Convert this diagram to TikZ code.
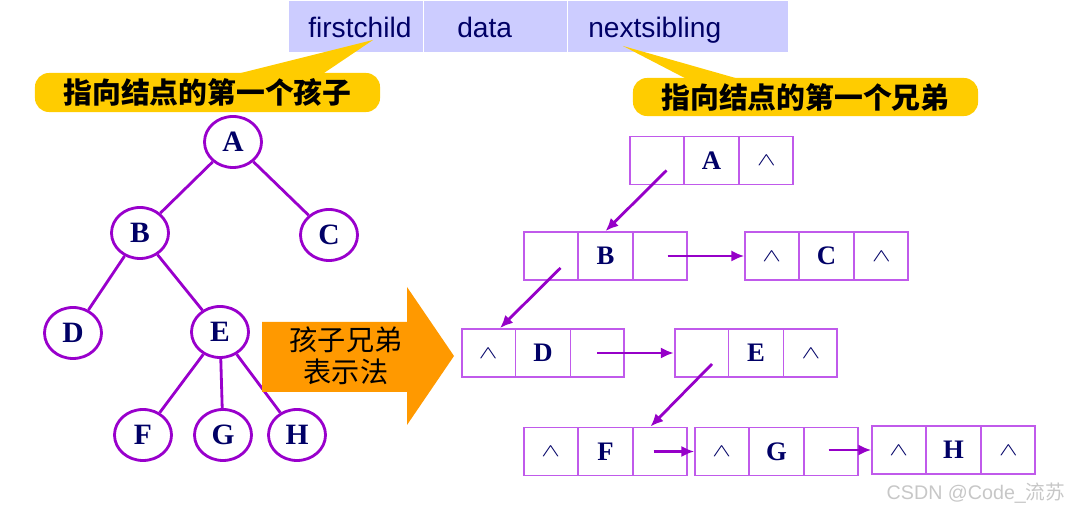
\documentclass[tikz,border=0pt]{standalone}
\usepackage{fontspec}
\setmainfont{Liberation Serif}
\setsansfont{Liberation Sans}
\newfontfamily\cjk{Noto Sans CJK SC}
\usepackage{tikz}
\usetikzlibrary{positioning,arrows.meta,shapes.geometric,shapes.multipart}
\definecolor{hdblue}{RGB}{204,204,255}
\definecolor{navy}{RGB}{0,0,102}
\definecolor{treepurple}{RGB}{153,0,204}
\definecolor{boxpurple}{RGB}{192,90,235}
\definecolor{ptrpurple}{RGB}{150,0,200}
\definecolor{callyellow}{RGB}{255,204,0}
\definecolor{arrorange}{RGB}{255,153,0}
\newcommand{\nilp}{\scalebox{1.15}[0.75]{$\wedge$}}

\begin{document}
\begin{tikzpicture}[x=0.025cm, y=-0.025cm,
    hdcell/.style={fill=hdblue, draw=white, line width=1pt, minimum height=1.3cm,
                   anchor=north west, inner sep=0pt},
    hdtxt/.style={font=\sffamily\fontsize{20}{24}\selectfont, text=navy,
                  anchor=base west, inner sep=0pt},
    callout/.style={fill=callyellow, rounded corners=0.35cm, inner sep=0pt,
                    font=\cjk\bfseries\fontsize{20.5}{24}\selectfont},
    tnode/.style={ellipse, draw=treepurple, line width=2pt, fill=white,
                  minimum width=1.425cm, minimum height=1.275cm, inner sep=0pt,
                  font=\bfseries\fontsize{21}{24}\selectfont, text=navy},
    tedge/.style={draw=treepurple, line width=2pt},
    lnode/.style={rectangle split, rectangle split horizontal, rectangle split parts=3,
                  draw=boxpurple, line width=1.3pt, text width=1.325cm, align=center,
                  inner sep=0pt, minimum height=1.2cm,
                  font=\bfseries\fontsize{19}{22}\selectfont, text=navy},
    ptr/.style={-{Latex[length=3.2mm,width=2.8mm]}, draw=ptrpurple, line width=2pt}
]
\useasboundingbox (0,0) rectangle (1068,510);

% field header
\node[hdcell, minimum width=3.375cm] (hfc) at (288,0) {};
\node[hdcell, minimum width=3.6cm] (hdt) at (423,0) {};
\node[hdcell, minimum width=5.525cm] (hns) at (567,0) {};
\node[hdtxt] (tfc) at ([shift={(20,38)}]hfc.north west) {firstchild};
\node[hdtxt] (tdt) at ([shift={(34,38)}]hdt.north west) {data};
\node[hdtxt] (tns) at ([shift={(21,38)}]hns.north west) {nextsibling};

% callouts
\node[callout, minimum width=8.625cm, minimum height=0.975cm] (cfc) at (207.5,92.5) {指向结点的第一个孩子};
\node[callout, minimum width=8.625cm, minimum height=0.95cm] (cns) at (805.5,97) {指向结点的第一个兄弟};
\coordinate (pfc) at (373,40);
\coordinate (pns) at (623,46);
\fill[callyellow] (pfc) -- ([shift={(22.5,3)}]cfc.north) -- ([shift={(112.5,3)}]cfc.north) -- cycle;
\fill[callyellow] (pns) -- ([shift={(-115.5,3)}]cns.north) -- ([shift={(-60.5,3)}]cns.north) -- cycle;

% tree
\node[tnode] (tA) at (233,142) {A};
\node[tnode] (tB) at (140,233) {B};
\node[tnode] (tC) at (329,235) {C};
\node[tnode] (tD) at (73,333) {D};
\node[tnode] (tE) at (220,332) {E};
\node[tnode] (tF) at (143,435) {F};
\node[tnode] (tG) at (223,435) {G};
\node[tnode] (tH) at (297,435) {H};
\draw[tedge] (tA) -- (tB);
\draw[tedge] (tA) -- (tC);
\draw[tedge] (tB) -- (tD);
\draw[tedge] (tB) -- (tE);
\draw[tedge] (tE) -- (tF);
\draw[tedge] (tE) -- (tG);
\draw[tedge] (tE) -- (tH);

% big arrow
\fill[arrorange] (262,322) -- (407,322) -- (407,287) -- (454,356) -- (407,425)
  -- (407,392) -- (262,392) -- cycle;
\node[font=\cjk\fontsize{20}{23}\selectfont, align=center] (rep) at (346,356) {孩子兄弟\\表示法};

% child-sibling list
\node[lnode] (lA) at (711.5,160.5) {\nodepart{two}A\nodepart{three}\nilp};
\node[lnode] (lB) at (605.5,256) {\nodepart{two}B\nodepart{three}};
\node[lnode] (lC) at (826.5,256) {\nilp\nodepart{two}C\nodepart{three}\nilp};
\node[lnode] (lD) at (543,353) {\nilp\nodepart{two}D\nodepart{three}};
\node[lnode] (lE) at (756,353) {\nodepart{two}E\nodepart{three}\nilp};
\node[lnode] (lF) at (605.5,451.5) {\nilp\nodepart{two}F\nodepart{three}};
\node[lnode] (lG) at (776.5,451.5) {\nilp\nodepart{two}G\nodepart{three}};
\node[lnode] (lH) at (953.5,450) {\nilp\nodepart{two}H\nodepart{three}\nilp};

\draw[ptr] ([shift={(-45,10)}]lA.center) -- (lB.north);
\draw[ptr] ([shift={(62,0)}]lB.center) -- (lC.west);
\draw[ptr] ([shift={(-45,12)}]lB.center) -- ([shift={(-43,0)}]lD.north);
\draw[ptr] ([shift={(54,0)}]lD.center) -- (lE.west);
\draw[ptr] ([shift={(-44,11)}]lE.center) -- ([shift={(45,0)}]lF.north);
\draw[ptr] ([shift={(48,0)}]lF.center) -- (lG.west);
\draw[ptr] ([shift={(52,-1.5)}]lG.center) -- (lH.west);

\node[font=\sffamily\fontsize{14}{16}\selectfont, text=black!22] (wm) at (976,493) {CSDN @Code\_{\cjk 流苏}};
\end{tikzpicture}
\end{document}
